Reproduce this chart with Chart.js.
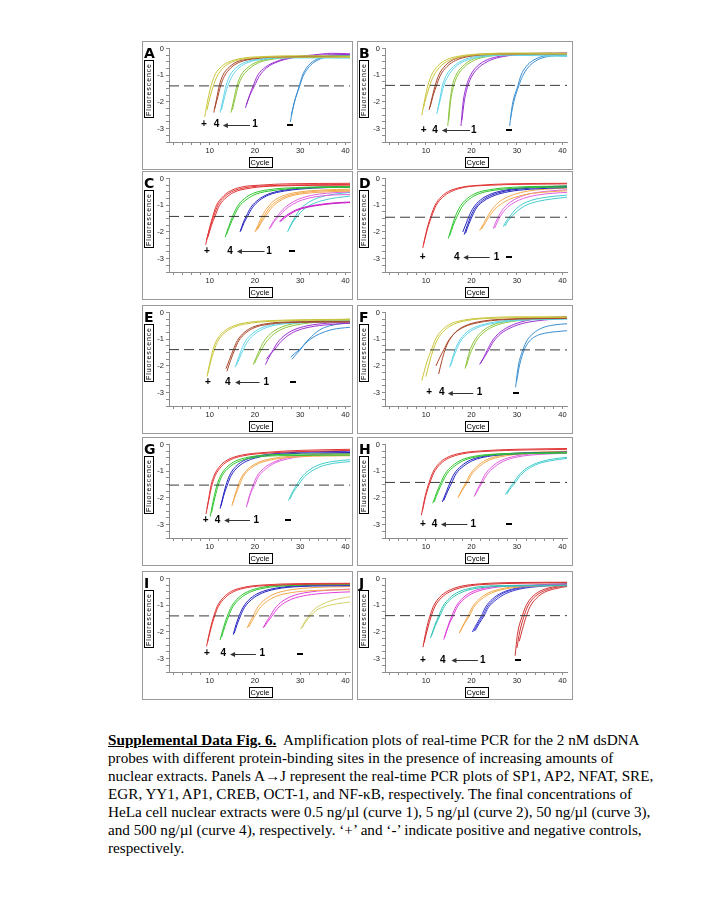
<!DOCTYPE html>
<html>
<head>
<meta charset="utf-8">
<script src="https://cdn.jsdelivr.net/npm/chart.js@4.4.0/dist/chart.umd.min.js"></script>
<style>
  body { margin: 0; background: #fff; width: 720px; height: 900px; position: relative; overflow: hidden; }
  .panel { position: absolute; border: 1px solid #9a9a9a; background: #fff; box-sizing: border-box; }
  .panel canvas { display: block; }
  #caption { position: absolute; left: 108px; top: 731px; font: 15.2px "Liberation Serif", "Times New Roman", serif;
             line-height: 18px; color: #000; white-space: nowrap; }
  #caption b { text-decoration: underline; }
</style>
</head>
<body>
<div id="caption"><b>Supplemental Data Fig. 6.</b>&nbsp; Amplification plots of real-time PCR for the 2 nM dsDNA<br>probes with different protein-binding sites in the presence of increasing amounts of<br>nuclear extracts. Panels A→J represent the real-time PCR plots of SP1, AP2, NFAT, SRE,<br>EGR, YY1, AP1, CREB, OCT-1, and NF-κB, respectively. The final concentrations of<br>HeLa cell nuclear extracts were 0.5 ng/µl (curve 1), 5 ng/µl (curve 2), 50 ng/µl (curve 3),<br>and 500 ng/µl (curve 4), respectively. ‘+’ and ‘-’ indicate positive and negative controls,<br>respectively.</div>
<script>
// ---- data ----
var panelLetters = ['A', 'B', 'C', 'D', 'E', 'F', 'G', 'H', 'I', 'J'];
var cycleLabels = [10, 20, 30, 40];
var cycleTickValues = [2, 4, 6, 8, 10, 12, 14, 16, 18, 20, 22, 24, 26, 28, 30, 32, 34, 36, 38, 40];
var fluorLabels = [0, -1, -2, -3];
var fluorTickValues = [0, -0.25, -0.5, -0.75, -1, -1.25, -1.5, -1.75, -2, -2.25, -2.5, -2.75, -3, -3.25, -3.5];
var thresholds = [-1.4, -1.38, -1.42, -1.45, -1.39, -1.4, -1.52, -1.42, -1.4, -1.39];

// each replicate: x0,y0, x1,y1, ... (cycle, fluorescence)
var curvesA = {
  pos: [[8.9,-2.56, 9.6,-1.9, 10.3,-1.4, 11.1,-1.0, 12.6,-0.68, 14,-0.52, 17,-0.37, 22,-0.3, 30,-0.27, 41,-0.3],
        [9.4,-2.3, 10.1,-1.8, 10.8,-1.4, 11.6,-1.05, 13,-0.72, 15,-0.5, 18,-0.38, 24,-0.32, 41,-0.33]],
  c4:  [[10.9,-2.4, 11.5,-1.9, 12.1,-1.4, 12.9,-1.0, 14.3,-0.7, 16,-0.5, 19,-0.38, 25,-0.32, 41,-0.3],
        [11.1,-2.25, 11.8,-1.8, 12.4,-1.4, 13.2,-1.05, 14.7,-0.72, 16.5,-0.52, 20,-0.38, 26,-0.32, 41,-0.3]],
  c3:  [[12.3,-2.4, 13,-1.85, 13.6,-1.4, 14.5,-1.0, 16,-0.7, 18,-0.5, 21,-0.4, 27,-0.34, 41,-0.34],
        [12.6,-2.3, 13.3,-1.8, 14,-1.4, 14.9,-1.05, 16.5,-0.72, 18.5,-0.52, 22,-0.4, 28,-0.35, 41,-0.36]],
  c2:  [[14.7,-2.4, 15.4,-1.85, 16,-1.4, 16.9,-1.0, 18.5,-0.7, 20.5,-0.5, 23.5,-0.38, 29,-0.3, 41,-0.28],
        [15,-2.3, 15.7,-1.8, 16.3,-1.4, 17.2,-1.05, 19,-0.72, 21,-0.52, 24,-0.4, 30,-0.32, 41,-0.3]],
  c1:  [[17.9,-2.22, 18.8,-1.75, 19.6,-1.4, 20.6,-1.0, 22.3,-0.7, 24.5,-0.5, 27.5,-0.35, 33,-0.24, 37,-0.18, 41,-0.2],
        [18.1,-2.1, 19,-1.7, 19.9,-1.4, 20.9,-1.05, 22.6,-0.72, 25,-0.5, 28,-0.36, 33,-0.26, 41,-0.22]],
  neg: [[28,-2.5, 28.9,-1.9, 29.8,-1.4, 30.5,-1.0, 31.5,-0.7, 32.7,-0.5, 34.5,-0.35, 37,-0.26, 41,-0.26],
        [27.8,-2.75, 28.7,-2.0, 29.8,-1.45, 30.6,-1.05, 31.7,-0.74, 33,-0.52, 35,-0.36, 38,-0.28, 41,-0.3]]
};
var curvesB = {
  pos: [[9.1,-2.5, 9.8,-1.85, 10.4,-1.4, 11.2,-1.0, 12.6,-0.65, 14.5,-0.42, 17.5,-0.28, 22,-0.2, 30,-0.17, 41,-0.18],
        [9.4,-2.25, 10.1,-1.8, 10.8,-1.4, 11.6,-1.05, 13,-0.7, 15,-0.45, 18,-0.3, 23,-0.22, 41,-0.2]],
  c4:  [[10.7,-2.3, 11.4,-1.8, 12,-1.4, 12.8,-1.0, 14.2,-0.65, 16,-0.42, 19,-0.28, 24,-0.2, 41,-0.18],
        [10.9,-2.2, 11.6,-1.75, 12.3,-1.4, 13.1,-1.03, 14.6,-0.68, 16.5,-0.45, 19.5,-0.3, 25,-0.22, 41,-0.2]],
  c3:  [[12.4,-2.45, 13.1,-1.85, 13.6,-1.4, 14.5,-1.0, 16,-0.68, 18,-0.45, 21,-0.3, 27,-0.22, 41,-0.26],
        [12.6,-2.3, 13.3,-1.8, 13.9,-1.4, 14.8,-1.05, 16.4,-0.7, 18.5,-0.47, 22,-0.32, 28,-0.25, 41,-0.3]],
  c2:  [[14.8,-2.9, 15.2,-2.1, 15.8,-1.4, 16.6,-1.0, 18,-0.68, 20,-0.42, 23,-0.28, 28,-0.2, 41,-0.18],
        [15,-2.7, 15.4,-2.0, 16.1,-1.4, 16.9,-1.03, 18.4,-0.7, 20.5,-0.45, 23.5,-0.3, 29,-0.22, 41,-0.2]],
  c1:  [[17.7,-2.9, 18.1,-2.1, 18.9,-1.4, 19.8,-1.0, 21.3,-0.66, 23.5,-0.42, 26.5,-0.28, 31,-0.2, 41,-0.17],
        [17.9,-2.7, 18.4,-2.0, 19.2,-1.4, 20.1,-1.03, 21.7,-0.7, 24,-0.45, 27,-0.3, 32,-0.22, 41,-0.18]],
  neg: [[28.4,-2.9, 29,-2.1, 30.2,-1.4, 30.9,-1.0, 32,-0.68, 33.5,-0.45, 35.5,-0.3, 38,-0.22, 41,-0.2],
        [28.6,-2.6, 29.3,-2.0, 30.4,-1.4, 31.2,-1.05, 32.4,-0.72, 34,-0.48, 36,-0.33, 39,-0.26, 41,-0.25]]
};
var curvesC = {
  pos: [[9.1,-2.48, 9.9,-1.9, 10.7,-1.4, 11.5,-1.0, 12.8,-0.7, 14.2,-0.5, 17,-0.32, 21,-0.25, 27,-0.2, 41,-0.18],
        [9.3,-2.3, 10.1,-1.8, 10.9,-1.4, 11.8,-1.0, 13.2,-0.7, 14.8,-0.5, 18,-0.34, 23,-0.27, 41,-0.22],
        [9.6,-2.2, 10.4,-1.75, 11.2,-1.4, 12.1,-1.02, 13.6,-0.72, 15.3,-0.52, 19,-0.36, 25,-0.28, 41,-0.25]],
  c4:  [[13.4,-2.2, 14.2,-1.8, 15.1,-1.4, 16.1,-1.05, 17.7,-0.75, 19.7,-0.55, 23,-0.42, 29,-0.34, 41,-0.3],
        [13.7,-2.1, 14.5,-1.75, 15.4,-1.4, 16.4,-1.07, 18.2,-0.78, 20.3,-0.58, 24,-0.45, 30,-0.36, 41,-0.33]],
  c3:  [[16.7,-2.0, 17.3,-1.7, 18.1,-1.4, 19.1,-1.08, 20.7,-0.8, 22.7,-0.6, 26,-0.45, 32,-0.34, 41,-0.3],
        [16.9,-1.95, 17.6,-1.65, 18.4,-1.4, 19.4,-1.1, 21,-0.82, 23,-0.62, 26.5,-0.47, 33,-0.36, 41,-0.32]],
  c2:  [[20,-2.0, 20.8,-1.7, 21.6,-1.4, 22.7,-1.1, 24.3,-0.82, 26.5,-0.63, 30,-0.5, 35,-0.43, 41,-0.4],
        [20.3,-1.95, 21.1,-1.68, 22,-1.4, 23.1,-1.12, 24.8,-0.85, 27,-0.66, 30.5,-0.53, 35.5,-0.46, 41,-0.44],
        [20.6,-1.9, 21.4,-1.65, 22.4,-1.4, 23.5,-1.13, 25.2,-0.87, 27.5,-0.68, 31,-0.56, 36,-0.5, 41,-0.47]],
  c1:  [[23.1,-1.9, 24,-1.62, 25,-1.4, 26.1,-1.17, 27.7,-0.95, 29.7,-0.77, 32.5,-0.63, 36,-0.55, 41,-0.5],
        [23.4,-1.85, 24.3,-1.6, 25.4,-1.4, 26.6,-1.18, 28.3,-0.97, 30.5,-0.8, 33.5,-0.68, 37,-0.62, 41,-0.6]],
  c1b: [[25.4,-1.6, 26.4,-1.45, 27.5,-1.32, 29,-1.18, 31,-1.07, 34,-0.98, 37,-0.92, 41,-0.88],
        [25.6,-1.62, 26.6,-1.47, 27.7,-1.34, 29.2,-1.2, 31.2,-1.09, 34.2,-1.0, 37.2,-0.94, 41,-0.9]],
  neg: [[27.2,-2.0, 28,-1.7, 29,-1.4, 30.1,-1.13, 31.8,-0.9, 34,-0.72, 37,-0.6, 41,-0.52],
        [27.5,-1.9, 28.3,-1.65, 29.4,-1.4, 30.6,-1.18, 32.4,-0.98, 34.8,-0.83, 38,-0.72, 41,-0.66]]
};
var curvesD = {
  pos: [[9.3,-2.6, 10.2,-1.9, 11.1,-1.4, 12,-1.0, 13.4,-0.68, 15,-0.48, 18,-0.32, 22,-0.25, 28,-0.2, 41,-0.18],
        [9.5,-2.45, 10.4,-1.85, 11.3,-1.4, 12.2,-1.02, 13.7,-0.7, 15.4,-0.5, 18.5,-0.33, 23,-0.26, 41,-0.2]],
  c4:  [[14.9,-2.25, 15.7,-1.8, 16.5,-1.4, 17.5,-1.05, 19,-0.76, 21,-0.55, 24,-0.42, 29,-0.33, 41,-0.28],
        [15.2,-2.15, 16,-1.75, 16.9,-1.4, 17.9,-1.07, 19.5,-0.78, 21.5,-0.58, 25,-0.44, 30,-0.36, 41,-0.32]],
  c3:  [[18.1,-2.0, 18.8,-1.7, 19.5,-1.4, 20.4,-1.1, 22,-0.8, 24,-0.6, 27,-0.45, 32,-0.34, 41,-0.28],
        [18.4,-2.1, 19.1,-1.75, 19.9,-1.4, 20.8,-1.1, 22.4,-0.82, 24.5,-0.62, 27.5,-0.47, 33,-0.36, 41,-0.3],
        [18.7,-2.05, 19.4,-1.72, 20.2,-1.4, 21.1,-1.1, 22.8,-0.83, 25,-0.64, 28,-0.5, 33,-0.4, 41,-0.34]],
  c2:  [[21.8,-1.95, 22.7,-1.68, 23.6,-1.4, 24.7,-1.12, 26.3,-0.85, 28.5,-0.65, 31.5,-0.5, 36,-0.4, 41,-0.36],
        [22.2,-1.9, 23.1,-1.65, 24,-1.4, 25.2,-1.14, 27,-0.9, 29.3,-0.72, 32.5,-0.58, 37,-0.5, 41,-0.46]],
  c1:  [[24.8,-1.88, 25.3,-1.65, 26,-1.4, 27,-1.13, 28.6,-0.88, 30.8,-0.68, 33.5,-0.55, 37,-0.47, 41,-0.42],
        [25.1,-1.85, 25.7,-1.63, 26.4,-1.4, 27.5,-1.15, 29.2,-0.92, 31.5,-0.74, 34.5,-0.62, 38,-0.55, 41,-0.52]],
  neg: [[27,-1.8, 27.7,-1.58, 28.5,-1.4, 29.6,-1.17, 31.2,-0.96, 33.5,-0.8, 36.5,-0.7, 41,-0.62],
        [27.4,-1.78, 28.1,-1.57, 29,-1.4, 30.2,-1.2, 32,-1.0, 34.5,-0.86, 37.5,-0.77, 41,-0.7]]
};
var curvesE = {
  pos: [[9.4,-2.4, 10,-1.9, 10.7,-1.4, 11.6,-1.02, 13.2,-0.7, 15.3,-0.5, 18.5,-0.37, 24,-0.3, 41,-0.25],
        [9.6,-2.28, 10.2,-1.85, 11,-1.4, 11.9,-1.04, 13.6,-0.72, 15.8,-0.52, 19,-0.4, 25,-0.32, 41,-0.28]],
  c4:  [[13.6,-2.1, 14.4,-1.75, 15.2,-1.4, 16.1,-1.05, 17.6,-0.75, 19.5,-0.55, 22.5,-0.42, 28,-0.35, 41,-0.33],
        [13.8,-2.2, 14.6,-1.8, 15.5,-1.4, 16.4,-1.06, 18,-0.76, 20,-0.56, 23,-0.44, 29,-0.37, 41,-0.36]],
  c3:  [[15.6,-2.05, 16.3,-1.72, 17,-1.4, 17.9,-1.07, 19.5,-0.78, 21.5,-0.57, 24.5,-0.43, 30,-0.35, 41,-0.3],
        [15.9,-1.98, 16.6,-1.7, 17.4,-1.4, 18.4,-1.08, 20,-0.8, 22,-0.6, 25,-0.46, 31,-0.38, 41,-0.34]],
  c2:  [[19.6,-1.95, 20.3,-1.68, 21,-1.4, 21.9,-1.1, 23.4,-0.8, 25.4,-0.58, 28.5,-0.42, 33,-0.32, 41,-0.25],
        [19.9,-1.9, 20.6,-1.65, 21.4,-1.4, 22.4,-1.12, 24,-0.83, 26,-0.62, 29,-0.47, 34,-0.36, 41,-0.3]],
  c1:  [[22.3,-1.95, 23.1,-1.68, 24,-1.4, 25,-1.12, 26.6,-0.85, 28.6,-0.65, 31.5,-0.5, 36,-0.4, 41,-0.35],
        [22.5,-1.75, 23.3,-1.57, 24.3,-1.4, 25.4,-1.15, 27,-0.9, 29,-0.7, 32,-0.55, 36.5,-0.45, 41,-0.4]],
  neg: [[27.9,-1.67, 28.8,-1.53, 29.8,-1.4, 30.9,-1.2, 32.4,-0.98, 34.3,-0.8, 37,-0.64, 41,-0.55],
        [28.2,-1.75, 29,-1.58, 30,-1.4, 31,-1.17, 32.5,-0.9, 34.3,-0.65, 36.5,-0.5, 39,-0.42, 41,-0.4]]
};
var curvesF = {
  pos: [[9.1,-2.55, 10.2,-1.85, 11.2,-1.4, 12.1,-1.0, 13.6,-0.65, 15.5,-0.42, 18.5,-0.28, 23,-0.2, 30,-0.16, 41,-0.16],
        [10,-2.4, 10.8,-1.85, 11.6,-1.4, 12.5,-1.02, 14,-0.68, 16,-0.45, 19,-0.3, 24,-0.22, 41,-0.18]],
  c4:  [[12.8,-2.3, 13.5,-1.8, 14.2,-1.4, 15.1,-1.05, 16.6,-0.72, 18.6,-0.5, 21.5,-0.35, 27,-0.25, 41,-0.2],
        [12.2,-2.0, 13,-1.7, 13.9,-1.4, 14.9,-1.07, 16.4,-0.76, 18.4,-0.54, 21.5,-0.38, 27,-0.27, 41,-0.22]],
  c3:  [[15.2,-2.05, 15.8,-1.72, 16.4,-1.4, 17.3,-1.07, 18.8,-0.76, 20.8,-0.55, 23.8,-0.4, 29,-0.28, 41,-0.22],
        [15.4,-2.0, 16,-1.7, 16.7,-1.4, 17.6,-1.08, 19.2,-0.78, 21.3,-0.57, 24.3,-0.42, 30,-0.3, 41,-0.25]],
  c2:  [[18.6,-2.1, 19.1,-1.75, 19.7,-1.4, 20.6,-1.07, 22,-0.76, 24,-0.52, 27,-0.35, 32,-0.24, 41,-0.2],
        [18.9,-2.0, 19.4,-1.7, 20.1,-1.4, 21,-1.08, 22.5,-0.78, 24.5,-0.55, 27.5,-0.38, 33,-0.26, 41,-0.22]],
  c1:  [[21.8,-1.95, 22.7,-1.68, 23.5,-1.4, 24.5,-1.08, 26,-0.78, 28,-0.55, 31,-0.35, 35,-0.22, 41,-0.15],
        [22,-1.9, 22.9,-1.65, 23.8,-1.4, 24.8,-1.1, 26.4,-0.8, 28.5,-0.58, 31.5,-0.4, 36,-0.28, 41,-0.22]],
  neg: [[29.7,-2.8, 30.3,-2.0, 31.3,-1.4, 32.2,-1.05, 33.6,-0.78, 35.5,-0.58, 38,-0.47, 41,-0.42],
        [29.9,-2.6, 30.6,-1.95, 31.6,-1.4, 32.6,-1.1, 34,-0.9, 36,-0.78, 38.5,-0.72, 41,-0.68]]
};
var curvesG = {
  pos: [[9.2,-2.6, 9.8,-2.0, 10.3,-1.52, 11,-1.15, 12.3,-0.8, 14,-0.57, 17,-0.4, 22,-0.3, 30,-0.22, 41,-0.18],
        [9.4,-2.4, 10,-1.9, 10.5,-1.52, 11.2,-1.17, 12.6,-0.82, 14.5,-0.58, 17.5,-0.42, 23,-0.32, 41,-0.22]],
  c4:  [[10.1,-2.7, 10.9,-2.0, 11.6,-1.52, 12.4,-1.17, 13.8,-0.85, 15.7,-0.62, 18.7,-0.47, 24,-0.38, 41,-0.35],
        [10.4,-2.55, 11.2,-1.95, 11.9,-1.52, 12.7,-1.18, 14.2,-0.87, 16.2,-0.65, 19.2,-0.5, 25,-0.42, 41,-0.4]],
  c3:  [[12.3,-2.4, 13,-1.9, 13.6,-1.52, 14.4,-1.15, 15.8,-0.82, 17.8,-0.58, 21,-0.42, 26,-0.32, 41,-0.25],
        [12.5,-2.3, 13.2,-1.85, 13.9,-1.52, 14.7,-1.17, 16.2,-0.85, 18.2,-0.62, 21.5,-0.45, 27,-0.35, 41,-0.3]],
  c2:  [[14.9,-2.3, 15.6,-1.88, 16.3,-1.52, 17.1,-1.2, 18.6,-0.9, 20.6,-0.68, 23.6,-0.53, 29,-0.43, 41,-0.38],
        [15.1,-2.2, 15.8,-1.85, 16.6,-1.52, 17.4,-1.2, 19,-0.9, 21,-0.7, 24,-0.56, 30,-0.46, 41,-0.42]],
  c1:  [[18.1,-2.35, 18.8,-1.9, 19.6,-1.52, 20.4,-1.2, 21.9,-0.9, 23.9,-0.68, 27,-0.5, 32,-0.38, 41,-0.3],
        [18.3,-2.25, 19,-1.85, 19.9,-1.52, 20.7,-1.22, 22.3,-0.93, 24.3,-0.7, 27.5,-0.53, 33,-0.4, 41,-0.33]],
  neg: [[27.4,-2.1, 28.3,-1.77, 29.2,-1.52, 30.2,-1.25, 31.8,-0.98, 34,-0.77, 37,-0.64, 41,-0.57],
        [27.7,-2.05, 28.6,-1.75, 29.6,-1.52, 30.6,-1.27, 32.3,-1.02, 34.6,-0.82, 37.6,-0.7, 41,-0.64]]
};
var curvesH = {
  pos: [[9,-2.65, 9.8,-1.95, 10.7,-1.42, 11.5,-1.05, 12.8,-0.72, 14.5,-0.5, 17.5,-0.33, 22,-0.24, 30,-0.18, 41,-0.15],
        [9.2,-2.5, 10,-1.9, 10.9,-1.42, 11.7,-1.07, 13.1,-0.74, 14.9,-0.52, 18,-0.35, 23,-0.26, 41,-0.18]],
  c4:  [[11.5,-2.2, 12.4,-1.78, 13.3,-1.42, 14.2,-1.1, 15.8,-0.8, 17.8,-0.58, 21,-0.43, 26,-0.35, 41,-0.3],
        [11.8,-2.15, 12.7,-1.76, 13.6,-1.42, 14.6,-1.1, 16.2,-0.82, 18.3,-0.6, 21.5,-0.45, 27,-0.37, 41,-0.32]],
  c3:  [[13.6,-2.15, 14.5,-1.76, 15.3,-1.42, 16.2,-1.1, 17.8,-0.8, 19.8,-0.58, 23,-0.43, 28,-0.34, 41,-0.28],
        [13.9,-2.1, 14.8,-1.74, 15.7,-1.42, 16.6,-1.1, 18.2,-0.82, 20.3,-0.6, 23.5,-0.45, 29,-0.36, 41,-0.3]],
  c2:  [[17,-2.0, 17.9,-1.7, 18.8,-1.42, 19.7,-1.12, 21.2,-0.82, 23.2,-0.58, 26.2,-0.42, 31,-0.32, 41,-0.25],
        [17.2,-1.95, 18.1,-1.68, 19.1,-1.42, 20,-1.13, 21.6,-0.84, 23.7,-0.6, 26.7,-0.45, 32,-0.34, 41,-0.27]],
  c1:  [[20.6,-1.95, 21.3,-1.68, 22.1,-1.42, 23,-1.12, 24.5,-0.83, 26.5,-0.6, 29.5,-0.44, 34,-0.34, 41,-0.3],
        [20.8,-1.9, 21.6,-1.65, 22.4,-1.42, 23.4,-1.13, 25,-0.85, 27,-0.63, 30,-0.47, 35,-0.37, 41,-0.33]],
  neg: [[27.5,-1.87, 28.4,-1.62, 29.3,-1.42, 30.3,-1.17, 32,-0.9, 34.3,-0.7, 37.3,-0.56, 41,-0.48],
        [27.8,-1.85, 28.7,-1.62, 29.7,-1.42, 30.7,-1.17, 32.4,-0.92, 34.7,-0.72, 37.7,-0.6, 41,-0.52]]
};
var curvesI = {
  pos: [[9.3,-2.54, 10.1,-1.9, 10.9,-1.4, 11.7,-1.03, 13.1,-0.7, 14.8,-0.48, 17.8,-0.32, 22,-0.24, 30,-0.19, 41,-0.18],
        [9.5,-2.4, 10.3,-1.85, 11.1,-1.4, 11.9,-1.05, 13.4,-0.72, 15.2,-0.5, 18.3,-0.34, 23,-0.26, 41,-0.2]],
  c4:  [[12.3,-2.3, 13.1,-1.8, 13.9,-1.4, 14.8,-1.05, 16.3,-0.73, 18.3,-0.5, 21.3,-0.34, 26,-0.25, 41,-0.2],
        [12.6,-2.2, 13.4,-1.77, 14.2,-1.4, 15.1,-1.06, 16.7,-0.75, 18.8,-0.52, 22,-0.36, 27,-0.27, 41,-0.22]],
  c3:  [[15.2,-2.1, 15.8,-1.73, 16.5,-1.4, 17.4,-1.07, 18.9,-0.76, 20.9,-0.54, 24,-0.38, 29,-0.28, 41,-0.24],
        [15.4,-2.05, 16.1,-1.7, 16.8,-1.4, 17.7,-1.08, 19.3,-0.78, 21.4,-0.56, 24.5,-0.4, 30,-0.3, 41,-0.27]],
  c2:  [[18.3,-1.85, 18.9,-1.62, 19.6,-1.4, 20.5,-1.1, 22,-0.82, 24,-0.6, 27,-0.45, 32,-0.35, 41,-0.3],
        [18.6,-1.82, 19.3,-1.6, 20,-1.4, 21,-1.12, 22.6,-0.86, 24.8,-0.66, 28,-0.53, 33,-0.45, 41,-0.42]],
  c1:  [[21.8,-1.85, 22.6,-1.6, 23.4,-1.4, 24.4,-1.12, 26,-0.86, 28.2,-0.66, 31.5,-0.52, 36,-0.44, 41,-0.4],
        [22,-1.82, 22.9,-1.6, 23.8,-1.4, 24.9,-1.14, 26.6,-0.9, 29,-0.72, 32.5,-0.6, 37,-0.53, 41,-0.5]],
  neg: [[30.1,-1.9, 31,-1.62, 31.9,-1.4, 33,-1.17, 34.8,-0.97, 37,-0.82, 41,-0.68],
        [30.4,-1.85, 31.3,-1.6, 32.3,-1.4, 33.5,-1.2, 35.5,-1.05, 38,-0.95, 41,-0.88]]
};
var curvesJ = {
  pos: [[9.35,-2.57, 10.1,-1.9, 10.9,-1.39, 11.7,-1.02, 13,-0.7, 14.7,-0.48, 17.5,-0.3, 22,-0.2, 30,-0.15, 41,-0.14],
        [9.6,-2.4, 10.4,-1.85, 11.2,-1.39, 12,-1.04, 13.4,-0.72, 15.2,-0.5, 18,-0.33, 23,-0.22, 41,-0.16]],
  c4:  [[11,-2.23, 11.9,-1.77, 12.8,-1.39, 13.7,-1.05, 15.2,-0.73, 17.2,-0.5, 20.2,-0.35, 25,-0.27, 41,-0.25],
        [11.2,-2.15, 12.1,-1.75, 13.1,-1.39, 14,-1.06, 15.6,-0.75, 17.7,-0.53, 20.7,-0.38, 26,-0.3, 41,-0.27]],
  c3:  [[13.9,-2.29, 14.8,-1.8, 15.7,-1.39, 16.6,-1.05, 18.1,-0.73, 20.1,-0.5, 23.1,-0.35, 28,-0.26, 41,-0.24],
        [14.1,-2.2, 15,-1.76, 16,-1.39, 16.9,-1.06, 18.5,-0.75, 20.6,-0.53, 23.6,-0.38, 29,-0.28, 41,-0.26]],
  c2:  [[17.3,-2.05, 18.3,-1.7, 19.3,-1.39, 20.2,-1.07, 21.7,-0.77, 23.7,-0.54, 26.7,-0.38, 31,-0.28, 41,-0.24],
        [17.5,-2.0, 18.5,-1.68, 19.6,-1.39, 20.5,-1.08, 22.1,-0.79, 24.2,-0.56, 27.2,-0.4, 32,-0.3, 41,-0.26]],
  c1:  [[20.2,-2.0, 21.2,-1.68, 22.2,-1.39, 23.1,-1.07, 24.6,-0.77, 26.6,-0.54, 29.6,-0.37, 34,-0.25, 41,-0.2],
        [20.5,-1.98, 21.5,-1.67, 22.5,-1.39, 23.4,-1.08, 25,-0.78, 27,-0.55, 30,-0.38, 35,-0.27, 41,-0.22],
        [20.8,-1.95, 21.8,-1.66, 22.8,-1.39, 23.7,-1.09, 25.4,-0.8, 27.5,-0.57, 30.5,-0.4, 35.5,-0.29, 41,-0.24]],
  neg: [[29.6,-2.89, 30.1,-2.1, 31.2,-1.39, 32,-1.02, 33.3,-0.7, 35,-0.48, 37.5,-0.33, 41,-0.24],
        [30,-2.6, 30.6,-2.0, 31.6,-1.39, 32.4,-1.03, 33.7,-0.72, 35.5,-0.5, 38,-0.35, 41,-0.27],
        [30.5,-2.35, 31.2,-1.9, 32.1,-1.39, 32.9,-1.05, 34.2,-0.75, 36,-0.52, 38.5,-0.38, 41,-0.3]]
};
var panelCurves = [curvesA, curvesB, curvesC, curvesD, curvesE, curvesF, curvesG, curvesH, curvesI, curvesJ];

// labels under the curves: [fluorescence, '+' cycle, '4' cycle, arrow start, arrow end, '1' cycle, '-' cycle]
var marksA = [-2.85, 8.7, 11.5, 18.9, 12.9, 20, 27.7];
var marksB = [-3.05, 9.5, 12.0, 19.7, 13.5, 20.5, 28.2];
var marksC = [-2.72, 9.4, 14.5, 22.1, 16.0, 23.1, 28.2];
var marksD = [-2.93, 9.3, 16.8, 24.0, 18.2, 25.5, 28.2];
var marksE = [-2.6, 9.6, 14.0, 21.0, 15.6, 22.5, 28.4];
var marksF = [-3.0, 10.7, 13.5, 20.4, 14.8, 21.8, 29.7];
var marksG = [-2.83, 9.1, 11.7, 18.9, 13.2, 20.3, 27.2];
var marksH = [-2.97, 9.35, 11.9, 19.1, 13.3, 20.4, 28.2];
var marksI = [-2.81, 9.4, 13.0, 20.2, 14.5, 21.6, 29.9];
var marksJ = [-3.05, 9.35, 13.7, 21.4, 15.6, 22.5, 30.2];
var panelMarks = [marksA, marksB, marksC, marksD, marksE, marksF, marksG, marksH, marksI, marksJ];

// ---- styles ----
var paletteWarm = { pos: '#c9c53c', c4: '#a8482c', c3: '#62d4e8', c2: '#8cc43c', c1: '#9a30d0', neg: '#3a8ed0' };
var paletteRGB  = { pos: '#e03636', c4: '#30c430', c3: '#2424c0', c2: '#f2a84c', c1: '#e060e0', c1b: '#c81cc8', neg: '#44cccc' };
var paletteI    = { pos: '#e03636', c4: '#30c430', c3: '#2424c0', c2: '#f2a84c', c1: '#e040d8', neg: '#d2d068' };
var paletteJ    = { pos: '#d42c2c', c4: '#34c4b4', c3: '#e040d8', c2: '#f0a848', c1: '#3a3ad0', neg: '#d03434' };
var panelPalettes = [paletteWarm, paletteWarm, paletteRGB, paletteRGB, paletteWarm, paletteWarm, paletteRGB, paletteRGB, paletteI, paletteJ];
var rowTops = [41, 171, 305, 437, 571];
var panelHeight = 129;

// boxed axis titles, panel letter and the +/4/1/- labels
var panelDecor = {
    id: 'panelDecor',
    afterDraw: function(chart) {
        var ctx = chart.ctx;
        var a = chart.chartArea;
        var xs = chart.scales.x, ys = chart.scales.y;
        var opts = chart.options.plugins.panelDecor;
        var m = opts.marks;
        ctx.save();

        // panel letter
        ctx.fillStyle = '#000';
        ctx.font = 'bold 14px "DejaVu Sans"';
        ctx.textAlign = 'left';
        ctx.textBaseline = 'alphabetic';
        ctx.fillText(opts.letter, 1, 16);

        // "Cycle" box
        ctx.font = '7.5px "Liberation Sans"';
        var cx = Math.round((a.left + a.right) / 2), cy = a.bottom + 20;
        var tw = ctx.measureText('Cycle').width;
        ctx.strokeStyle = '#000';
        ctx.lineWidth = 1;
        ctx.strokeRect(Math.round(cx - tw / 2 - 2) + 0.5, cy - 5 + 0.5, Math.round(tw + 4), 10);
        ctx.textAlign = 'center';
        ctx.textBaseline = 'middle';
        ctx.fillText('Cycle', cx, cy + 1);

        // "Fluorescence" box
        ctx.save();
        ctx.translate(6, 48);
        ctx.rotate(-Math.PI / 2);
        ctx.font = '7px "Liberation Sans"';
        ctx.letterSpacing = '0.9px';
        var fw = ctx.measureText('Fluorescence').width;
        ctx.strokeRect(Math.round(-fw / 2 - 2) + 0.5, -4.5, Math.round(fw + 4), 9);
        ctx.fillText('Fluorescence', 0.5, 0.5);
        ctx.restore();

        // sample labels
        var y = ys.getPixelForValue(m[0]);
        ctx.font = 'bold 10px "Liberation Sans"';
        ctx.textAlign = 'center';
        ctx.textBaseline = 'middle';
        ctx.fillText('+', xs.getPixelForValue(m[1]), y);
        ctx.fillText('4', xs.getPixelForValue(m[2]), y);
        ctx.fillText('1', xs.getPixelForValue(m[5]), y);
        // negative-control dash
        var xm = xs.getPixelForValue(m[6]);
        ctx.fillRect(Math.round(xm - 3), Math.round(y) - 1, 6, 2);
        var x1 = xs.getPixelForValue(m[3]), x2 = xs.getPixelForValue(m[4]);
        var yl = Math.round(y) + 0.5;
        ctx.strokeStyle = '#333';
        ctx.beginPath();
        ctx.moveTo(x1, yl);
        ctx.lineTo(x2 + 4, yl);
        ctx.stroke();
        ctx.fillStyle = '#333';
        ctx.beginPath();
        ctx.moveTo(x2, yl);
        ctx.lineTo(x2 + 5, yl - 2.5);
        ctx.lineTo(x2 + 5, yl + 2.5);
        ctx.closePath();
        ctx.fill();
        ctx.restore();
    }
};

function makePanel(i) {
    var col = i % 2, row = Math.floor(i / 2);
    var w = col ? 216 : 211;
    var div = document.createElement('div');
    div.className = 'panel';
    div.style.left = (col ? 357 : 142) + 'px';
    div.style.top = rowTops[row] + 'px';
    div.style.width = w + 'px';
    div.style.height = panelHeight + 'px';
    var cv = document.createElement('canvas');
    cv.width = w - 2;
    cv.height = panelHeight - 2;
    div.appendChild(cv);
    document.body.appendChild(div);

    var palette = panelPalettes[i];
    var groups = panelCurves[i];
    var datasets = [];
    // threshold first so it is drawn on top
    datasets.push({
        data: [{ x: 1, y: thresholds[i] }, { x: 41, y: thresholds[i] }],
        borderColor: '#3a3a3a', borderWidth: 1, borderDash: [10, 5], pointRadius: 0
    });
    for (var g in groups) {
        for (var r = 0; r < groups[g].length; r++) {
            var flat = groups[g][r];
            var pts = [];
            for (var k = 0; k < flat.length; k += 2) {
                pts.push({ x: flat[k], y: flat[k + 1] });
            }
            datasets.push({
                data: pts,
                borderColor: palette[g],
                borderWidth: 1,
                pointRadius: 0,
                cubicInterpolationMode: 'monotone'
            });
        }
    }

    var axisColor = '#8c8c8c';
    new Chart(cv, {
        type: 'line',
        data: { datasets: datasets },
        plugins: [panelDecor],
        options: {
            responsive: false,
            animation: false,
            events: [],
            layout: { padding: { top: 4, right: col ? 5 : 2, left: 0, bottom: 0 } },
            plugins: {
                legend: { display: false },
                tooltip: { enabled: false },
                panelDecor: { letter: panelLetters[i], marks: panelMarks[i] }
            },
            scales: {
                x: {
                    type: 'linear', min: 1, max: 41,
                    afterBuildTicks: function(s) { s.ticks = cycleTickValues.map(function(v) { return { value: v }; }); },
                    afterFit: function(s) { s.height = 27; },
                    ticks: {
                        autoSkip: false, maxRotation: 0, padding: 1, color: '#222',
                        font: { size: 7.5, family: 'Liberation Sans' },
                        callback: function(v) { return cycleLabels.indexOf(v) >= 0 ? String(v) : ''; }
                    },
                    grid: { drawOnChartArea: false, tickLength: 3, color: axisColor },
                    border: { color: axisColor }
                },
                y: {
                    min: -3.5, max: 0,
                    afterBuildTicks: function(s) { s.ticks = fluorTickValues.map(function(v) { return { value: v }; }); },
                    afterFit: function(s) { s.width = col ? 27 : 26; },
                    ticks: {
                        autoSkip: false, padding: 2, color: '#222',
                        font: { size: 7.5, family: 'Liberation Sans' },
                        callback: function(v) { return fluorLabels.indexOf(v) >= 0 ? String(v) : ''; }
                    },
                    grid: { drawOnChartArea: false, tickLength: 3, color: axisColor },
                    border: { color: axisColor }
                }
            }
        }
    });
}

for (var i = 0; i < panelLetters.length; i++) {
    makePanel(i);
}
</script>
</body>
</html>
